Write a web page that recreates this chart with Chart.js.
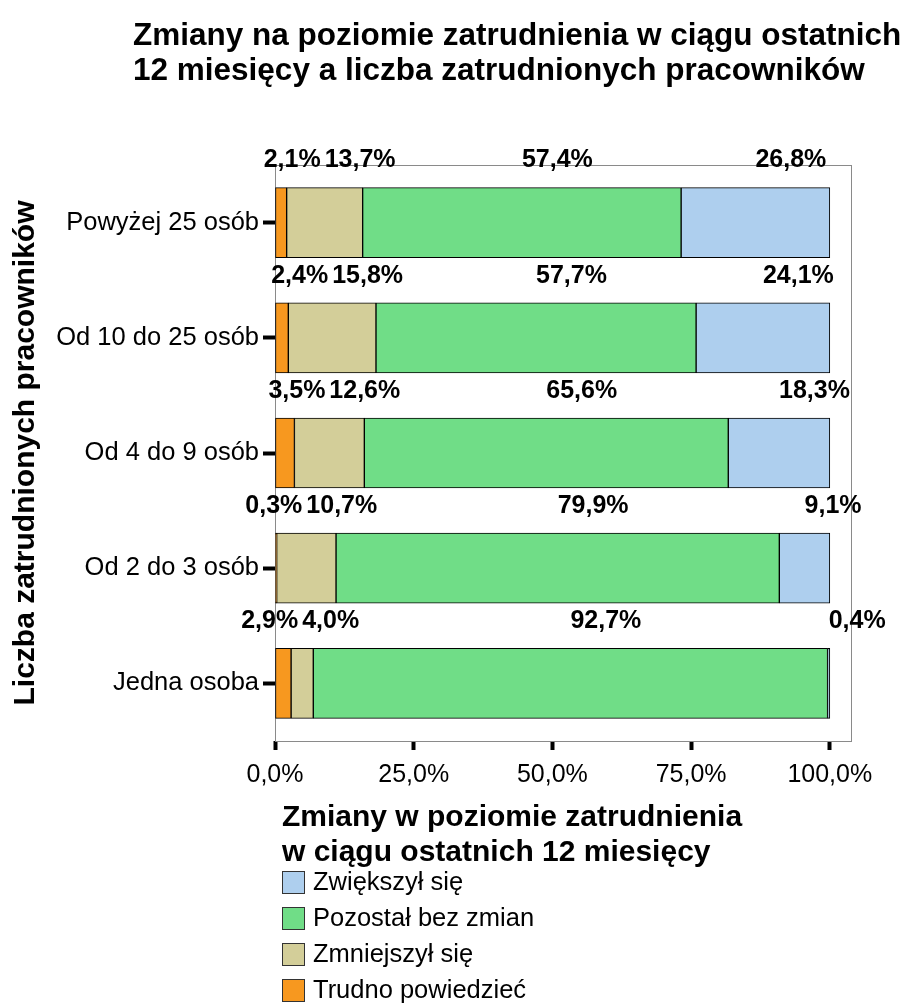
<!DOCTYPE html>
<html>
<head>
<meta charset="utf-8">
<script src="https://cdn.jsdelivr.net/npm/chart.js@4.4.0/dist/chart.umd.min.js"></script>
<style>
  body { margin: 0; background: #fff; }
  canvas { display: block; }
</style>
</head>
<body>
<canvas id="chart" width="917" height="1005"></canvas>
<script>
const FONT = "'Liberation Sans', Arial, sans-serif";

const categories = ["Powyżej 25 osób", "Od 10 do 25 osób", "Od 4 do 9 osób", "Od 2 do 3 osób", "Jedna osoba"];
const trudno = [2.1, 2.4, 3.5, 0.3, 2.9];
const zmniejszyl = [13.7, 15.8, 12.6, 10.7, 4.0];
const pozostal = [57.4, 57.7, 65.6, 79.9, 92.7];
const zwiekszyl = [26.8, 24.1, 18.3, 9.1, 0.4];
const xTicks = [0, 25, 50, 75, 100];

const titleLines = ["Zmiany na poziomie zatrudnienia w ciągu ostatnich", "12 miesięcy a liczba zatrudnionych pracowników"];
const legendTitle = ["Zmiany w poziomie zatrudnienia", "w ciągu ostatnich 12 miesięcy"];

const fmt = (v) => v.toFixed(1).replace(".", ",") + "%";

// title, frame, labels above bars, legend
const decor = {
    id: "decor",
    beforeDatasetsDraw(chart) {
        const { ctx, chartArea: a } = chart;
        ctx.save();
        ctx.strokeStyle = "#8a8a8a";
        ctx.lineWidth = 1;
        ctx.strokeRect(a.left + 0.5, a.top + 0.5, a.right - a.left - 1, a.bottom - a.top);
        ctx.restore();
    },
    afterDatasetsDraw(chart) {
        const { ctx } = chart;
        ctx.save();
        ctx.font = "bold 25px " + FONT;
        ctx.fillStyle = "#000";
        ctx.textBaseline = "middle";
        ctx.textAlign = "left";
        const n = chart.data.datasets.length;
        categories.forEach((c, row) => {
            const items = [];
            for (let i = 0; i < n; i++) {
                const el = chart.getDatasetMeta(i).data[row];
                const text = fmt(chart.data.datasets[i].data[row]);
                items.push({
                    text,
                    left: (el.x + el.base) / 2,
                    w: ctx.measureText(text).width,
                    y: el.y - el.height / 2 - 27,
                });
            }
            for (let i = n - 2; i >= 0; i--) {
                if (items[i].left + items[i].w + 4 > items[i + 1].left) {
                    items[i].left = items[i + 1].left - 4 - items[i].w;
                }
            }
            items.forEach((it) => ctx.fillText(it.text, it.left, it.y));
        });
        ctx.restore();
    },
    afterDraw(chart) {
        const { ctx } = chart;
        ctx.save();
        ctx.fillStyle = "#000";
        ctx.textAlign = "left";
        ctx.textBaseline = "alphabetic";
        ctx.font = "bold 31.5px " + FONT;
        ctx.fillText(titleLines[0], 133, 45);
        ctx.fillText(titleLines[1], 133, 80);

        ctx.font = "bold 30px " + FONT;
        ctx.fillText(legendTitle[0], 282, 826);
        ctx.fillText(legendTitle[1], 282, 861);

        ctx.font = "25.5px " + FONT;
        ctx.textBaseline = "middle";
        const ds = chart.data.datasets.slice().reverse();
        ds.forEach((d, i) => {
            const cy = 882 + i * 36;
            ctx.fillStyle = d.backgroundColor;
            ctx.fillRect(282, cy - 11, 23, 23);
            ctx.strokeStyle = "#333";
            ctx.lineWidth = 1;
            ctx.strokeRect(282.5, cy - 10.5, 22, 22);
            ctx.fillStyle = "#000";
            ctx.fillText(d.label, 313, cy + 1);
        });
        ctx.restore();
    },
};

const mk = (label, data, color) => ({
    label,
    data,
    backgroundColor: color,
    borderColor: "#000",
    borderWidth: 1,
    borderSkipped: false,
    barThickness: 70,
});

new Chart(document.getElementById("chart"), {
    type: "bar",
    data: {
        labels: categories,
        datasets: [
            mk("Trudno powiedzieć", trudno, "#F7981F"),
            mk("Zmniejszył się", zmniejszyl, "#D3CE99"),
            mk("Pozostał bez zmian", pozostal, "#70DD87"),
            mk("Zwiększył się", zwiekszyl, "#AECFEE"),
        ],
    },
    options: {
        indexAxis: "y",
        responsive: false,
        animation: false,
        layout: { padding: { left: 0, right: 65, top: 165, bottom: 204 } },
        plugins: {
            legend: { display: false },
            tooltip: { enabled: false },
        },
        scales: {
            x: {
                stacked: true,
                min: 0,
                max: 104,
                afterBuildTicks: (s) => { s.ticks = xTicks.map((v) => ({ value: v })); },
                afterFit: (s) => { s.height = 60; },
                border: { display: false },
                grid: {
                    drawOnChartArea: false,
                    drawTicks: true,
                    tickLength: 9,
                    tickWidth: 4,
                    tickColor: "#000",
                },
                ticks: {
                    callback: (v) => fmt(v),
                    color: "#000",
                    padding: 10,
                    maxRotation: 0,
                    font: { family: FONT, size: 25 },
                },
            },
            y: {
                stacked: true,
                afterFit: (s) => { s.width = 275; },
                border: { display: false },
                grid: {
                    offset: false,
                    drawOnChartArea: false,
                    drawTicks: true,
                    tickLength: 12,
                    tickWidth: 4,
                    tickColor: "#000",
                },
                ticks: {
                    color: "#000",
                    padding: 4,
                    font: { family: FONT, size: 25.5 },
                },
                title: {
                    display: true,
                    text: "Liczba zatrudnionych pracowników",
                    color: "#000",
                    padding: { top: 8, bottom: 0 },
                    font: { family: FONT, size: 30, weight: "bold" },
                },
            },
        },
    },
    plugins: [decor],
});
</script>
</body>
</html>
